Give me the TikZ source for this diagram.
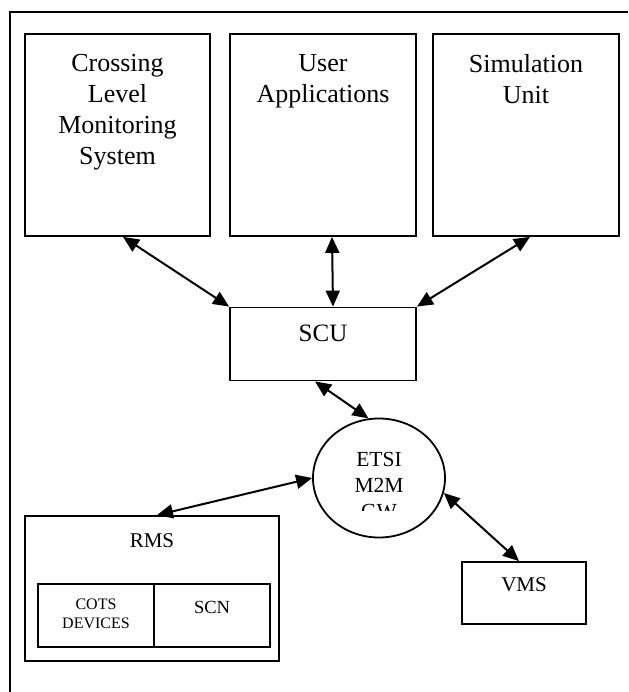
\documentclass[tikz,border=0pt]{standalone}
\usepackage{fontspec}
\setmainfont{Liberation Serif}
\usetikzlibrary{positioning,shapes.geometric,arrows.meta}

\tikzset{
  blk/.style={draw, line width=1.8pt, inner sep=0pt},
  txt/.style={inner sep=0pt, align=center},
  link/.style={line width=2pt, {Triangle[length=16pt,width=14pt]}-{Triangle[length=16pt,width=14pt]}},
}

\begin{document}
\begin{tikzpicture}[x=1pt, y=-1pt]
\useasboundingbox (0,0) rectangle (628,692);

% Draw the outer frame (only top and left edges show)
\draw[line width=1.8pt] (628,12) -- (10,12) -- (10,692);

% Draw the three top boxes
\foreach \nm/\cx/\bw/\lbl in {cls/117.5/185/{Crossing\\Level\\Monitoring\\System},
                              ua/323/186/{User\\Applications},
                              sim/526/186/{Simulation\\Unit}} {
	\node[blk, minimum width=\bw pt, minimum height=202pt] (\nm) at (\cx,135) {};
	\node[txt, font=\fontsize{26}{31}\selectfont, below=21pt of \nm.north] (\nm-t) {\lbl};
}

% Draw the SCU box
\node[blk, minimum width=186pt, minimum height=73pt] (scu) at (323,344) {};
\node[txt, font=\fontsize{25}{29}\selectfont, below=18pt of scu.north] (scu-t) {SCU};

% Draw the gateway ellipse (last line is cut off)
\node[ellipse, draw, line width=1.8pt, minimum width=132pt, minimum height=119pt, inner sep=0pt] (gw) at (379,478) {};
\begin{scope}
	\clip ([yshift=-32pt]gw.west) rectangle (gw.north east);
	\node[txt, font=\fontsize{21.5}{26}\selectfont, below=34pt of gw.north] (gw-t) {ETSI\\M2M\\GW};
\end{scope}

% Draw the RMS box and its two parts
\node[blk, minimum width=254pt, minimum height=145pt] (rms) at (152,588.5) {};
\node[txt, font=\fontsize{21}{24}\selectfont, below=18pt of rms.north] (rms-t) {RMS};
\node[blk, minimum width=116pt, minimum height=63pt] (cots) at (96,615.5) {};
\node[txt, font=\fontsize{16}{19}\selectfont, below=16pt of cots.north] (cots-t) {COTS\\DEVICES};
\node[blk, minimum width=116pt, minimum height=63pt] (scn) at (212,615.5) {};
\node[txt, font=\fontsize{18.5}{22}\selectfont, below=18pt of scn.north] (scn-t) {SCN};

% Draw the VMS box
\node[blk, minimum width=124pt, minimum height=62pt] (vms) at (524,593) {};
\node[txt, font=\fontsize{21}{24}\selectfont, below=16pt of vms.north] (vms-t) {VMS};

% Draw the links
\draw[link] ([xshift=5.5pt]cls.south) -- (scu.north west);
\draw[link] ([xshift=9pt]ua.south) -- ([xshift=10pt]scu.north);
\draw[link] ([xshift=4pt]sim.south) -- (scu.north east);
\draw[link] ([xshift=-8pt]scu.south) -- (gw.100);
\draw[link] (gw.west) -- ([xshift=5pt]rms.north);
\draw[link] (gw.-13) -- ([xshift=-5pt]vms.north);

\end{tikzpicture}
\end{document}
